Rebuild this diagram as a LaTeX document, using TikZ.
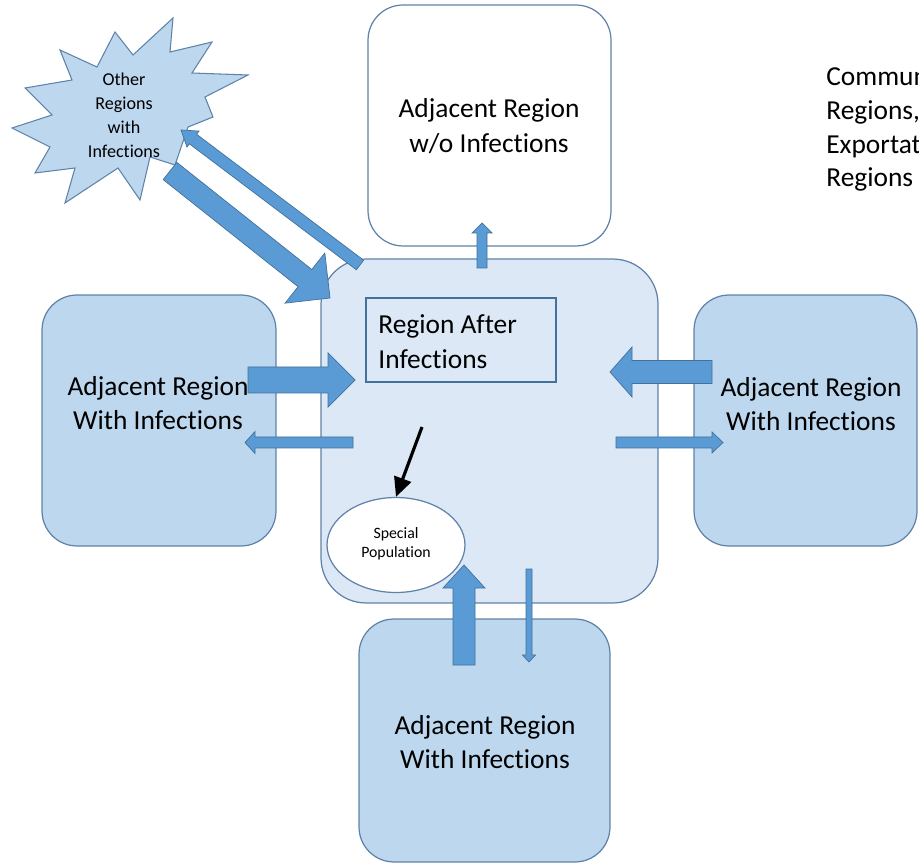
\documentclass[tikz,border=0pt]{standalone}
\usepackage{fontspec}
\setmainfont{Carlito}[Ligatures=NoCommon]
\usetikzlibrary{calc,shapes.geometric,arrows.meta}

\definecolor{edgeblue}{RGB}{95,130,168}
\definecolor{darkedge}{RGB}{65,113,156}
\definecolor{sidefill}{RGB}{189,215,238}
\definecolor{corefill}{RGB}{220,232,245}
\definecolor{arrowfill}{RGB}{91,155,213}

\tikzset{
  regionbox/.style={draw=edgeblue, line width=0.7pt, rounded corners=0.7cm,
    inner sep=0pt, fill=sidefill},
  bigtext/.style={font=\fontsize{15.6}{19.8}\selectfont, align=center, inner sep=0pt},
  blockarr/.style={fill=arrowfill, draw=darkedge, line width=0.4pt, line join=miter},
}

% block arrow: start, tip, shaft half width, head half width, head length (all in px units)
\newcommand\blockarrow[5]{%
  \coordinate (ba-h) at ($(#2)!#5*0.02cm!(#1)$);
  \filldraw[blockarr]
    ($(#1)!#3*0.02cm!90:(#2)$) -- ($(ba-h)!#3*0.02cm!90:(#2)$)
    -- ($(ba-h)!#4*0.02cm!90:(#2)$) -- (#2)
    -- ($(ba-h)!#4*0.02cm!-90:(#2)$) -- ($(ba-h)!#3*0.02cm!-90:(#2)$)
    -- ($(#1)!#3*0.02cm!-90:(#2)$) -- cycle;}

\begin{document}
\begin{tikzpicture}[x=0.02cm,y=-0.02cm]
\useasboundingbox (0,0) rectangle (919,864);

% surrounding regions
\node (topbox) [regionbox, fill=white, minimum width=4.86cm, minimum height=4.82cm] at (489.5,125.5) {};
\node (leftbox) [regionbox, minimum width=4.68cm, minimum height=5.02cm] at (159,420.5) {};
\node (rightbox) [regionbox, minimum width=4.46cm, minimum height=5.02cm] at (805.5,420.5) {};
\node (bottombox) [regionbox, minimum width=5.02cm, minimum height=4.86cm] at (484.5,740.5) {};

% the central region
\node (core) [regionbox, fill=corefill, rounded corners=0.9cm, minimum width=6.74cm, minimum height=6.88cm] at (489.5,431) {};

\node (toptext) [bigtext] at (489,126) {Adjacent Region\\w/o Infections};
\node (lefttext) [bigtext] at (158,403) {Adjacent Region\\With Infections};
\node (righttext) [bigtext] at (811,404) {Adjacent Region\\With Infections};
\node (bottomtext) [bigtext] at (485,742) {Adjacent Region\\With Infections};

% region after infections
\node (after) [draw=darkedge, line width=1.1pt, fill=corefill, inner sep=0pt,
  minimum width=3.8cm, minimum height=1.68cm] at (461,340) {};
\node (aftertext) [bigtext, align=left, anchor=west] at (378,342) {Region After\\Infections};

% special population
\node (special) [ellipse, draw=edgeblue, line width=0.7pt, fill=white, inner sep=0pt,
  minimum width=2.76cm, minimum height=1.9cm] at (396,545) {};
\node (specialtext) [font=\fontsize{9}{10.8}\selectfont, align=center, inner sep=0pt] at (396,544) {Special\\Population};

% starburst of other regions
\filldraw[fill=sidefill, draw=edgeblue, line width=0.6pt, line join=miter]
  (12,128) -- (52,115) -- (25,88) -- (72,80) -- (60,50) -- (97,67) -- (115,32)
  -- (133,55) -- (173,18) -- (170,52) -- (212,42) -- (192,73) -- (248,75)
  -- (205,97) -- (213,117) -- (188,127) -- (175,165) -- (150,157) -- (140,200)
  -- (118,168) -- (65,203) -- (75,168) -- (35,173) -- (50,147) -- cycle;
\node (star) [font=\fontsize{10.3}{13.6}\selectfont, align=center, inner sep=0pt] at (124,115)
  {Other\\Regions\\with\\Infections};

% note at upper right
\node (note) [font=\fontsize{15.6}{19.3}\selectfont, align=left, anchor=north west, inner sep=0pt]
  at (826,66) {Communities\\Regions,\\Exportation\\Regions};

% flow arrows
\coordinate (d1s) at (170,171); \coordinate (d1t) at (330,298);
\blockarrow{d1s}{d1t}{11}{32}{32}
\coordinate (d2s) at (360,265); \coordinate (d2t) at (181,130);
\blockarrow{d2s}{d2t}{6}{10}{15}
\coordinate (l1s) at (248,380); \coordinate (l1t) at (355,380);
\blockarrow{l1s}{l1t}{13}{27}{27}
\coordinate (l2s) at (353,442.5); \coordinate (l2t) at (245,442.5);
\blockarrow{l2s}{l2t}{5.5}{11}{10}
\coordinate (r1s) at (712,372); \coordinate (r1t) at (610,372);
\blockarrow{r1s}{r1t}{11.5}{25}{22}
\coordinate (r2s) at (616,442.5); \coordinate (r2t) at (723,442.5);
\blockarrow{r2s}{r2t}{5.5}{10.5}{11}
\coordinate (t1s) at (482,268); \coordinate (t1t) at (482,223);
\blockarrow{t1s}{t1t}{5}{10}{10}
\coordinate (b1s) at (464,665); \coordinate (b1t) at (464,565);
\blockarrow{b1s}{b1t}{11}{21}{23}
\coordinate (b2s) at (529,569); \coordinate (b2t) at (529,662);
\blockarrow{b2s}{b2t}{3}{6.5}{7}

% arrow into the special population
\coordinate (kstart) at (422,427);
\draw[line width=1.8pt, -{Triangle[length=11pt,width=10pt]}] (kstart) -- (special.north);
\end{tikzpicture}
\end{document}
